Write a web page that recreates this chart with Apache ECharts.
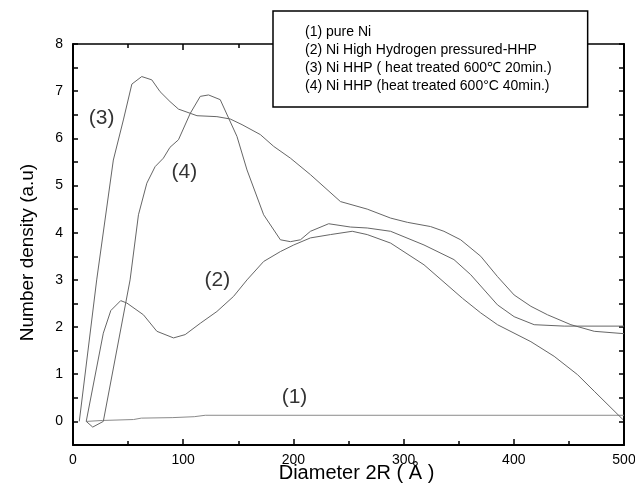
<!DOCTYPE html>
<html>
<head>
<meta charset="utf-8">
<title>Number density vs Diameter</title>
<script src="https://cdn.jsdelivr.net/npm/echarts@6/dist/echarts.min.js"></script>
<style>
  html, body { margin: 0; padding: 0; background: #fff; }
  #main { width: 635px; height: 489px; }
</style>
</head>
<body>
<div id="main"></div>
<script>
// series names as in the legend box
var names = [
  '(1) pure Ni',
  '(2) Ni High Hydrogen pressured-HHP',
  '(3) Ni HHP ( heat treated 600\u2103 20min.)',
  '(4) Ni HHP (heat treated 600\u00b0C 40min.)'
];

// [diameter 2R (A), number density]
var pureNi = [
  [12, 0], [27, 0.02], [55, 0.04], [62, 0.07], [90, 0.08], [110, 0.1],
  [120, 0.13], [500, 0.13]
];
var niHHP = [
  [12, 0], [27.5, 1.87], [34.3, 2.35], [43.3, 2.56], [48.8, 2.51], [63.9, 2.26],
  [76.1, 1.91], [91.2, 1.77], [101.8, 1.84], [115.5, 2.08], [130.6, 2.33],
  [145.7, 2.65], [157.9, 3.0], [173, 3.39], [188.2, 3.6], [200.3, 3.74],
  [215.5, 3.89], [233.6, 3.96], [253.4, 4.03], [267, 3.96], [288.2, 3.78],
  [318.5, 3.32], [353.4, 2.61], [370, 2.3], [385.2, 2.05], [415.5, 1.69],
  [436.6, 1.38], [457.9, 0.99], [473, 0.64], [499, 0.04]
];
var niHHP20 = [
  [5.7, 0], [21.5, 3.0], [36.6, 5.54], [45.7, 6.39], [53.4, 7.15], [62.4, 7.31],
  [71.5, 7.24], [79, 6.99], [88, 6.78], [95.7, 6.62], [112.5, 6.48],
  [130.6, 6.46], [142.7, 6.41], [153.4, 6.29], [170, 6.08], [182.1, 5.83],
  [197.3, 5.58], [215.5, 5.23], [242.7, 4.66], [267, 4.5], [288.2, 4.31],
  [303.4, 4.22], [324.5, 4.13], [336.6, 4.03], [351.8, 3.85], [370, 3.5],
  [385.2, 3.07], [400.3, 2.68], [415.5, 2.44], [430.6, 2.26], [451.8, 2.05],
  [473, 1.91], [500, 1.86]
];
var niHHP40 = [
  [12, 0], [17.9, -0.12], [27.5, 0], [51.8, 3.0], [59.4, 4.38], [67, 5.05],
  [74.5, 5.4], [82, 5.58], [88, 5.81], [95.7, 5.97], [106.4, 6.53],
  [115.5, 6.89], [123, 6.92], [133.6, 6.82], [148.8, 6.04], [157.9, 5.33],
  [173, 4.38], [188.2, 3.85], [197.3, 3.81], [206.4, 3.85], [215.5, 4.03],
  [232, 4.19], [251.8, 4.12], [267, 4.1], [288.2, 4.03], [318.5, 3.74],
  [345.7, 3.43], [360.9, 3.11], [385.2, 2.47], [400.3, 2.22], [418.5, 2.05],
  [445.7, 2.02], [500, 2.02]
];

// curve tags and where they sit (data coords)
var tags = ['(1)', '(2)', '(3)', '(4)'];
var tagPos = [[201, 0.52], [131, 3.0], [26, 6.42], [101, 5.29]];

var font = 'Arial, "Liberation Sans", Helvetica, sans-serif';

var myChart = echarts.init(document.getElementById('main'));

function xAxisCfg(pos, showLabel, lineW) {
  return {
    type: 'value', position: pos, min: 0, max: 500, interval: 100,
    axisLine: { show: true, onZero: false, lineStyle: { color: '#000', width: lineW } },
    axisTick: { show: true, inside: true, length: 6, lineStyle: { color: '#000', width: 1.5 } },
    minorTick: { show: true, splitNumber: 2, length: 4, lineStyle: { color: '#000', width: 1.5 } },
    axisLabel: { show: showLabel, margin: 8, color: '#000', fontSize: 14, fontFamily: font },
    splitLine: { show: false }
  };
}
function yAxisCfg(pos, showLabel, lineW) {
  return {
    type: 'value', position: pos, min: -0.5, max: 8, interval: 0.5,
    axisLine: { show: true, onZero: false, lineStyle: { color: '#000', width: lineW } },
    axisTick: { show: true, inside: true, length: 5, lineStyle: { color: '#000', width: 1.5 } },
    axisLabel: {
      show: showLabel, margin: 10, color: '#000', fontSize: 14, fontFamily: font,
      formatter: function (v) { return Math.abs(v - Math.round(v)) < 1e-6 ? String(Math.round(v)) : ''; }
    },
    splitLine: { show: false }
  };
}

var xBottom = xAxisCfg('bottom', true, 2);
xBottom.name = 'Diameter 2R ( \u00c5 )';
xBottom.nameLocation = 'middle';
xBottom.nameGap = 18;
xBottom.nameMoveOverlap = false;
xBottom.nameTextStyle = { color: '#000', fontSize: 20, fontFamily: font, padding: [0, 0, 0, 16] };

var yLeft = yAxisCfg('left', true, 2);
yLeft.name = 'Number density (a.u)';
yLeft.nameLocation = 'middle';
yLeft.nameGap = 36;
yLeft.nameMoveOverlap = false;
yLeft.nameTextStyle = { color: '#000', fontSize: 19, fontFamily: font, padding: [0, 16, 0, 0] };

var curves = [pureNi, niHHP, niHHP20, niHHP40];
var colors = ['#8a8a8a', '#666', '#666', '#666'];

var series = curves.map(function (d, i) {
  return {
    name: names[i], type: 'line', data: d, xAxisIndex: 0, yAxisIndex: 0,
    showSymbol: false, symbol: 'none', silent: true,
    lineStyle: { color: colors[i], width: 1 }
  };
});
// curve tags, placed in data space
series.push({
  type: 'scatter', xAxisIndex: 0, yAxisIndex: 0, symbolSize: 0, silent: true,
  data: tagPos.map(function (p, i) { return { value: p, name: tags[i] }; }),
  label: {
    show: true, position: 'inside', formatter: '{b}',
    color: '#000', fontSize: 21, fontFamily: font
  }
});

var option = {
  animation: false,
  backgroundColor: '#fff',
  grid: { left: 73, right: 11, top: 44, bottom: 44, containLabel: false, outerBoundsMode: 'none' },
  legend: {
    data: names.map(function (n) { return { name: n, icon: 'none' }; }),
    orient: 'vertical', left: 273, top: 11,
    itemWidth: 0, itemHeight: 14, itemGap: 4,
    padding: [14, 36, 14, 27],
    backgroundColor: '#fff', borderColor: '#000', borderWidth: 1.5, borderRadius: 0,
    selectedMode: false,
    textStyle: { color: '#000', fontSize: 14, fontFamily: font }
  },
  xAxis: [xBottom, xAxisCfg('top', false, 1.5)],
  yAxis: [yLeft, yAxisCfg('right', false, 2)],
  series: series
};

myChart.setOption(option);
</script>
</body>
</html>
